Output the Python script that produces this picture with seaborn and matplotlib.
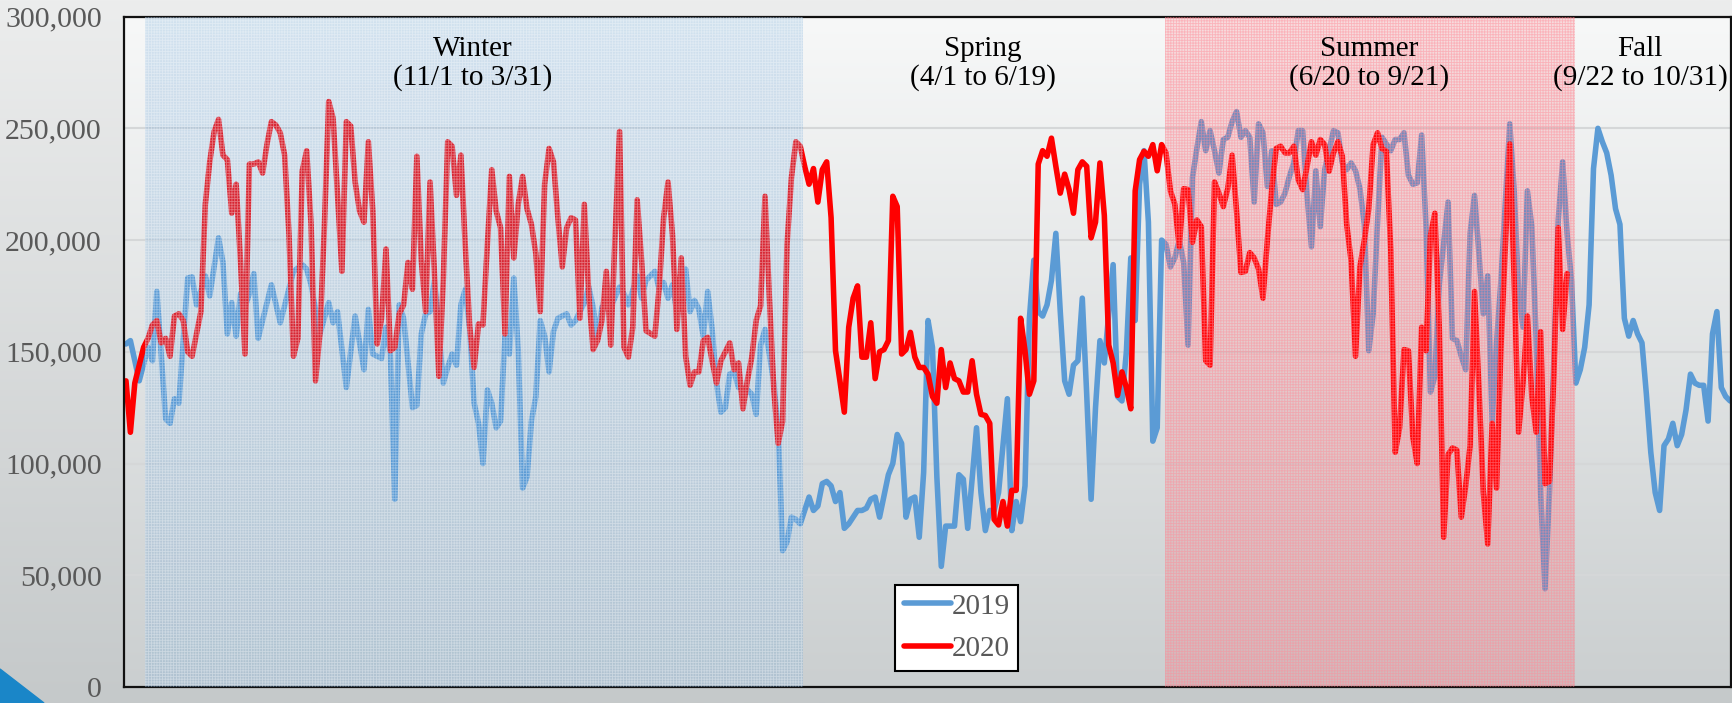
import numpy as np
import pandas as pd
import seaborn as sns
import matplotlib
matplotlib.use('Agg')
import matplotlib.pyplot as plt
from matplotlib.colors import LinearSegmentedColormap
from matplotlib.patches import Polygon
from matplotlib.ticker import FuncFormatter, MultipleLocator

# day index counted from 11/1, values in thousands
days_2019 = [0, 1, 3, 5, 6, 7, 9, 10, 11, 12, 14, 15, 16, 18, 19, 21, 22, 23, 24, 25,
             26, 27, 28, 29, 30, 33, 35, 38, 40, 41, 42, 44, 46, 47, 48, 50, 52, 54, 55, 56,
             58, 59, 60, 61, 62, 63, 65, 66, 67, 68, 69, 70, 72, 73, 74, 75, 76, 77, 78, 79,
             80, 81, 82, 83, 84, 85, 86, 87, 88, 89, 90, 91, 92, 93, 94, 95, 96, 97, 98, 100,
             101, 102, 103, 104, 105, 106, 107, 108, 110, 112, 113, 114, 116, 117, 118, 120, 121, 122, 123, 124,
             125, 127, 128, 129, 130, 131, 132, 133, 134, 135, 136, 137, 138, 139, 141, 142, 143, 144, 145, 146,
             147, 148, 149, 150, 151, 152, 153, 155, 156, 157, 158, 159, 160, 161, 162, 163, 164, 165, 166, 167,
             168, 169, 170, 171, 173, 174, 175, 176, 177, 178, 179, 180, 181, 182, 183, 184, 185, 186, 187, 188,
             189, 190, 191, 192, 193, 194, 195, 196, 197, 198, 200, 201, 202, 203, 204, 205, 206, 207, 208, 209,
             210, 211, 212, 213, 214, 215, 216, 217, 218, 219, 220, 221, 222, 224, 225, 226, 227, 228, 229, 230,
             231, 232, 233, 234, 235, 236, 237, 238, 239, 240, 241, 242, 243, 244, 245, 246, 247, 248, 249, 250,
             251, 252, 253, 254, 255, 256, 257, 258, 259, 260, 261, 262, 263, 264, 265, 266, 267, 268, 269, 270,
             271, 272, 273, 274, 275, 276, 277, 278, 279, 280, 281, 282, 283, 284, 285, 286, 287, 288, 289, 290,
             291, 292, 293, 294, 295, 296, 297, 298, 300, 301, 302, 303, 304, 305, 306, 307, 308, 309, 310, 311,
             312, 314, 315, 316, 317, 318, 319, 320, 321, 322, 323, 324, 325, 326, 327, 328, 329, 330, 331, 332,
             333, 334, 335, 336, 337, 338, 339, 340, 341, 342, 343, 344, 345, 346, 347, 348, 349, 350, 351, 352,
             353, 354, 355, 356, 357, 358, 359, 360, 361, 362, 363, 364]
vals_2019 = [153.5, 155, 137, 152, 146, 177, 120, 118, 129, 127, 183, 183.5, 171, 184, 175, 201, 190, 158, 172, 157,
             176, 170, 176, 185, 156, 180, 163, 186, 189, 187, 180, 158, 172, 163, 168, 134, 166, 142, 169, 149,
             147, 161, 149, 84, 171, 165, 125, 126, 158, 167, 168, 182, 136, 143, 149, 144, 171, 178, 160, 127,
             118, 100, 133, 127, 116, 119, 157, 149, 183, 151, 89, 94, 119, 130, 164, 157, 141, 159, 165, 167,
             162, 164, 168, 172, 179, 170, 156, 170, 170, 179, 176, 171, 184, 174, 182, 186, 178, 181, 174, 180,
             168, 187, 168, 173, 169, 157, 177, 160, 136, 123, 125, 140, 141, 134, 133, 131, 122, 153, 160, 149,
             136, 115, 61, 65, 76, 75, 73, 85, 79, 81, 91, 92, 90, 83, 87, 71, 73, 76, 79, 79,
             80, 84, 85, 76, 95, 100, 113, 109, 76, 84, 85, 67, 96, 164, 152, 94, 54, 72, 72, 72,
             95, 93, 71, 93, 116, 87, 70, 79, 79, 87, 129, 70, 83, 74, 90, 165, 191, 168, 166, 171,
             182, 203, 168, 137, 131, 144, 146, 174, 131, 84, 125, 155, 145, 189, 130, 128, 150, 192, 164, 225,
             240, 208, 110, 116, 200, 198, 188, 192, 200, 190, 153, 228, 241, 253, 240, 249, 240, 230, 245, 246,
             253, 257.5, 246, 249, 246, 217, 252, 248, 224, 240, 216, 217, 221, 228.5, 234.5, 249, 249, 220, 197, 231,
             206, 231.5, 240, 249, 248, 234.5, 231.5, 234.5, 231, 223, 207, 150.5, 167, 208, 246, 243, 240, 245, 245, 248,
             229, 225, 225.6, 247, 206, 132, 139, 180, 217, 156, 155, 148, 142, 203, 220, 194, 167, 184, 119, 154,
             182, 252, 222, 177, 161, 222, 206, 155, 87, 44, 87, 146, 209, 235, 203, 182, 136, 142, 152, 171,
             232, 250, 244, 239, 229, 214, 207, 165, 157, 164, 158, 154, 131, 105, 87, 79, 108, 111, 118, 108,
             113, 124, 140, 136, 135, 135, 119, 158, 168, 134, 130, 128]

days_2020 = [0, 1, 2, 4, 5, 6, 7, 8, 9, 10, 11, 12, 13, 14, 15] + list(range(17, 119)) + \
            list(range(120, 136)) + list(range(137, 328))
vals_2020 = [137, 114, 136, 152, 156, 162, 164, 154, 156, 148, 166, 167, 164, 150, 148,
             168, 216, 235, 248.5, 254, 238, 236, 212, 225, 190, 149, 234, 234, 235, 230, 243, 253, 251.5, 248, 238,
             202, 148, 156, 231, 240, 207, 137, 158, 205, 262, 254.5, 220, 186, 253, 251, 226, 213, 208, 244, 213,
             153.5, 165, 196, 150.5, 152, 167, 171, 190, 178, 237.5, 191, 168, 226, 185, 139, 182, 244, 242, 220, 238,
             197, 161, 143, 162.5, 162, 198, 231.5, 213, 205.5, 158, 228.5, 192, 216, 228.5, 214, 207, 194, 168, 225, 241,
             235, 210, 188, 205.5, 210, 209, 165, 216, 176, 151, 155, 164, 186, 153, 202.5, 248.6, 152, 147.6, 161, 218,
             190.6, 159.4,
             157, 179, 210, 226, 202.5, 160, 192, 148, 135, 141, 141, 155, 156.5, 146, 136,
             146, 154, 142, 145, 124.5, 137, 147.6, 164, 170.6, 219.6, 174, 133, 109, 119, 198, 228, 244, 242, 233,
             225, 232, 217, 231.5, 235, 210, 150.5, 137, 123, 161, 174, 179.5, 147.6, 147.6, 163, 138, 150, 151, 155,
             219.6, 215, 149, 151, 158.7, 147.6, 143, 143, 140, 130, 127, 151, 134, 145, 138, 137, 132, 132, 146,
             131, 122, 121.5, 118, 75, 72.5, 83, 72, 88, 88, 165, 150.5, 131, 137, 234, 240, 237.5, 245.6, 233,
             221, 229.5, 222.6, 212, 231.5, 235, 233, 201, 208, 234.5, 211, 153, 145, 130.5, 141, 134, 124.5, 222, 236,
             239.7, 237.5, 242.7, 231, 242.7, 239, 222, 216, 197, 223, 222.6, 199, 209, 206, 146, 144, 226, 221, 215,
             223, 238, 213, 185.5, 186, 194.4, 192, 187, 174, 200, 223, 241, 242, 239, 239, 242, 227, 222.6, 233,
             244, 238, 245, 242.7, 230.8, 239, 244, 237.5, 207, 190.6, 148, 188, 200, 214, 242.7, 248, 241, 239.7,
             195, 105, 116, 151, 150.5, 112, 100, 161, 150.5, 202, 212, 161, 67, 104, 107, 106, 76, 90, 108,
             177, 134, 87, 64, 118, 89, 152, 197, 243, 182, 114, 136, 166, 130, 114, 159, 91, 92, 139, 205.5,
             160, 185]

season_names = ['Winter\n(11/1 to 3/31)', 'Spring\n(4/1 to 6/19)',
                'Summer\n(6/20 to 9/21)', 'Fall\n(9/22 to 10/31)']
season_label_day = [78.7, 194.5, 282, 343.6]
winter_span = (4.3, 153.6)
summer_span = (235.8, 328.7)

n = min(len(days_2020), len(vals_2020))
df = pd.concat([
    pd.DataFrame({'day': days_2019, 'riders': np.array(vals_2019) * 1000, 'year': '2019'}),
    pd.DataFrame({'day': days_2020[:n], 'riders': np.array(vals_2020[:n]) * 1000, 'year': '2020'}),
])

sns.set_style('white')
plt.rcParams['font.family'] = ['Liberation Serif', 'DejaVu Serif']
plt.rcParams['hatch.linewidth'] = 0.6

W, H = 1733, 703
fig = plt.figure(figsize=(W / 100, H / 100), dpi=100)

# slide background
bg = fig.add_axes([0, 0, 1, 1], zorder=-10)
grad = np.linspace(0, 1, 256).reshape(-1, 1)
bg.imshow(grad, aspect='auto', extent=[0, 1, 0, 1], origin='upper',
          cmap=LinearSegmentedColormap.from_list('bg', ['#eceded', '#c5c9ca']))
bg.add_patch(Polygon([(0, 0), (0, 34 / H), (44 / W, 0)], closed=True, color='#1a86c8'))
bg.set_xlim(0, 1)
bg.set_ylim(0, 1)
bg.axis('off')

ax = fig.add_axes([124 / W, 16 / H, (1731 - 124) / W, (687 - 16.6) / H])
ax.set_facecolor('none')
xmin, xmax = -0.45, 364.2
ax.imshow(grad, aspect='auto', extent=[xmin, xmax, 0, 300000], origin='upper', zorder=0,
          cmap=LinearSegmentedColormap.from_list('pa', ['#f7f8f8', '#cbcfd0']))

sns.lineplot(data=df, x='day', y='riders', hue='year', hue_order=['2019', '2020'],
             palette={'2019': '#5b9bd5', '2020': '#ff0000'}, estimator=None,
             linewidth=4.0, ax=ax, zorder=2)

ax.axvspan(*winter_span, facecolor=(0.357, 0.608, 0.835, 0.24), edgecolor=(1, 1, 1, 0.35),
           hatch='++++++', linewidth=0, zorder=3)
ax.axvspan(*summer_span, facecolor=(1, 0.2, 0.25, 0.14), edgecolor=(1, 0.55, 0.6, 0.5),
           hatch='++++++', linewidth=0, zorder=3)

for name, d in zip(season_names, season_label_day):
    ax.text(d, 279000, name, ha='center', va='center', fontsize=21,
            color='black', linespacing=1.1, zorder=5)

ax.set_xlim(xmin, xmax)
ax.set_ylim(0, 300000)
ax.yaxis.set_major_locator(MultipleLocator(50000))
ax.yaxis.set_major_formatter(FuncFormatter(lambda v, p: f'{int(v):,}'))
ax.tick_params(axis='y', labelsize=21.5, labelcolor='#595959', length=0, pad=16)
ax.set_xticks([])
ax.set_xlabel('')
ax.set_ylabel('')
ax.yaxis.grid(True, color='#d5d7d8', linewidth=1.5)
ax.set_axisbelow(True)
for s in ax.spines.values():
    s.set_visible(True)
    s.set_color('#111111')
    s.set_linewidth(1.6)

leg = ax.legend(loc='lower left', bbox_to_anchor=(0.48, 0.024), borderaxespad=0,
                fontsize=21, frameon=True, fancybox=False, framealpha=1,
                edgecolor='black', handlelength=1.6, handletextpad=0.02,
                labelspacing=0.55, borderpad=0.3, title=None)
leg.get_frame().set_linewidth(1.5)
for t in leg.get_texts():
    t.set_color('#595959')
leg.set_zorder(6)

fig.savefig('out.png', dpi=100)
